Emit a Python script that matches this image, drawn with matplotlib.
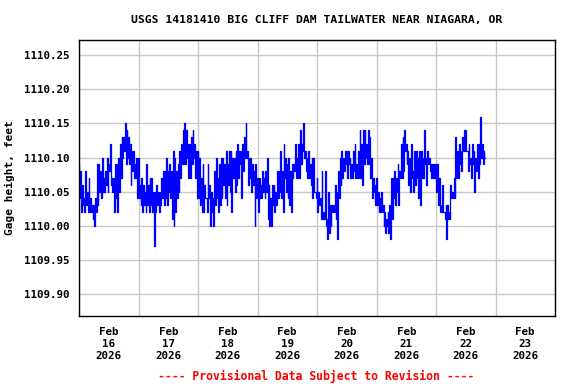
import numpy as np
import pandas as pd
import matplotlib
matplotlib.use("Agg")
import matplotlib.pyplot as plt
import matplotlib.dates as mdates

# gage height readings, hundredths of a foot above 1110.00 ft,
# read off the chart as alternating high / low pairs, one pair every 40 min
feb16 = [9,4, 8,2, 6,3, 4,2, 8,3, 5,2, 7,2, 4,2, 3,1, 3,0, 4,2, 9,3, 9,5, 8,4, 10,5, 7,5, 8,6, 10,5,
         9,8, 12,6, 7,5, 7,2, 9,4, 9,2, 10,5, 12,7, 13,10, 13,11, 15,9, 14,10, 13,9, 12,6, 11,8, 11,7, 9,7, 10,4]
feb17 = [10,4, 6,3, 7,2, 6,3, 5,2, 9,3, 6,2, 7,3, 7,2, 5,-3, 5,2, 6,3, 5,2, 5,3, 7,4, 8,3, 8,4, 10,3,
         8,5, 9,4, 8,1, 11,0, 10,2, 8,4, 9,5, 11,7, 12,9, 14,9, 15,9, 14,10, 12,7, 12,7, 13,9, 14,10, 12,7, 11,4]
feb18 = [11,4, 10,3, 7,2, 9,2, 6,4, 4,2, 9,4, 6,0, 5,2, 4,0, 8,3, 10,4, 7,2, 9,3, 10,4, 10,6, 9,4, 11,3,
         9,6, 11,5, 11,2, 10,7, 10,5, 11,6, 12,7, 11,9, 11,4, 12,8, 13,10, 15,10, 11,6, 10,7, 10,5, 9,6, 8,0, 9,4]
feb19 = [7,2, 7,4, 6,4, 8,5, 7,4, 8,5, 10,1, 6,0, 4,0, 6,3, 6,2, 5,3, 8,4, 8,5, 11,4, 8,2, 12,7, 10,5,
         9,4, 10,3, 8,2, 9,7, 9,8, 12,7, 10,7, 12,7, 14,9, 12,11, 15,10, 11,8, 10,7, 11,7, 9,6, 10,4, 10,5, 5,4]
feb20 = [7,2, 5,3, 4,1, 8,1, 2,1, 8,0, 1,-2, 5,-1, 3,0, 3,2, 3,2, 6,1, 5,-2, 8,4, 10,6, 11,7, 10,8, 11,9,
         11,7, 11,9, 10,7, 9,7, 11,8, 12,7, 9,7, 11,7, 14,7, 12,6, 14,9, 14,10, 12,9, 14,9, 13,7, 10,4, 7,5, 6,3]
feb21 = [7,3, 5,2, 4,2, 5,2, 3,0, 2,-1, 1,0, 2,-1, 3,-2, 7,1, 7,4, 8,3, 7,5, 9,3, 8,7, 12,7, 13,8, 14,11,
         12,9, 11,6, 10,5, 12,7, 8,5, 11,6, 11,7, 10,4, 11,3, 11,7, 10,7, 14,9, 10,6, 11,9, 10,8, 9,7, 9,7, 9,7]
feb22 = [9,5, 9,3, 7,2, 3,2, 6,2, 2,1, 3,-2, 3,1, 2,1, 6,4, 5,4, 7,4, 13,7, 11,7, 12,9, 11,8, 13,11, 14,11,
         14,11, 11,8, 12,9, 10,7, 12,9, 11,5, 10,8, 12,7, 12,9, 16,10, 12,9, 11,10]

days = ["2026-02-16", "2026-02-17", "2026-02-18", "2026-02-19", "2026-02-20", "2026-02-21", "2026-02-22"]
readings = [feb16, feb17, feb18, feb19, feb20, feb21, feb22]
yticks = [1109.90, 1109.95, 1110.00, 1110.05, 1110.10, 1110.15, 1110.20, 1110.25]

times = []
heights = []
for day, vals in zip(days, readings):
    t0 = pd.Timestamp(day)
    for i, v in enumerate(vals):
        times.append(t0 + pd.Timedelta(minutes=20 * i))
        heights.append(1110 + v / 100)

mono = "DejaVu Sans Mono"
fig = plt.figure(figsize=(5.76, 3.84), dpi=100)
ax = fig.add_axes([79 / 576, 68 / 384, 476 / 576, 276 / 384])

# stepped trace like the USGS plot
ax.plot(times, heights, color="#0000ff", linewidth=0.9, drawstyle="steps-mid")

ax.set_xlim(pd.Timestamp("2026-02-16"), pd.Timestamp("2026-02-24"))
ax.set_ylim(1109.868, 1110.272)

ax.xaxis.set_major_locator(mdates.DayLocator())
ax.xaxis.set_major_formatter(plt.NullFormatter())
ax.xaxis.set_minor_locator(mdates.HourLocator(byhour=[12]))
ax.xaxis.set_minor_formatter(mdates.DateFormatter("Feb\n%d\n%Y"))
ax.set_yticks(yticks)
ax.set_yticklabels([f"{y:.2f}" for y in yticks])

ax.tick_params(axis="both", which="both", length=0)
ax.tick_params(axis="y", pad=7)
ax.tick_params(axis="x", which="minor", pad=8)
for lab in ax.get_yticklabels() + ax.get_xticklabels(minor=True):
    lab.set_fontfamily(mono)
    lab.set_fontweight("bold")
    lab.set_fontsize(7.8)
for lab in ax.get_xticklabels(minor=True):
    lab.set_linespacing(1.25)

ax.grid(True, which="major", color="#c8c8c8", linewidth=1.0)
ax.set_axisbelow(True)
for s in ax.spines.values():
    s.set_linewidth(1.0)
    s.set_color("black")

ax.set_ylabel("Gage height, feet", fontfamily=mono, fontweight="bold", fontsize=8, labelpad=6)
fig.text(317 / 576, 1 - 20 / 384, "USGS 14181410 BIG CLIFF DAM TAILWATER NEAR NIAGARA, OR",
         ha="center", va="center", fontfamily=mono, fontweight="bold", fontsize=8.2)
fig.text(316 / 576, 1 - 376 / 384, "---- Provisional Data Subject to Revision ----",
         ha="center", va="center", fontfamily=mono, fontweight="bold", fontsize=8.3, color="red")

fig.savefig("out.png", dpi=100)
